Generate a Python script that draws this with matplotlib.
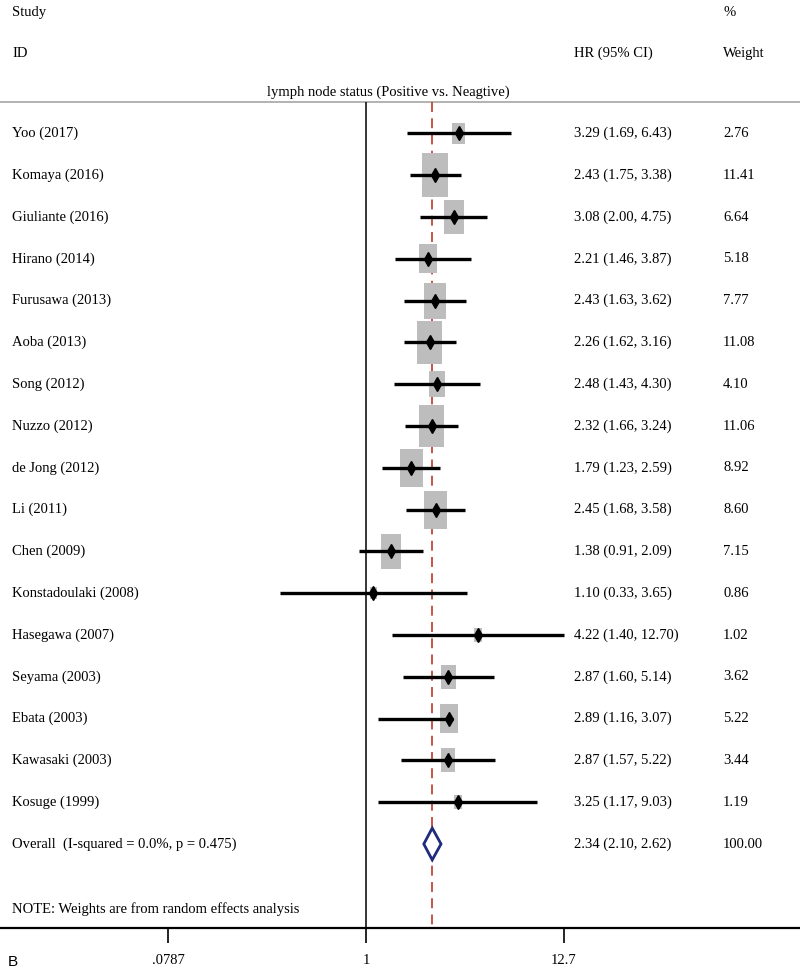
import numpy as np
import matplotlib
matplotlib.use("Agg")
import matplotlib.pyplot as plt
from matplotlib.patches import Rectangle, Polygon

studies = ["Yoo (2017)", "Komaya (2016)", "Giuliante (2016)", "Hirano (2014)",
           "Furusawa (2013)", "Aoba (2013)", "Song (2012)", "Nuzzo (2012)",
           "de Jong (2012)", "Li (2011)", "Chen (2009)", "Konstadoulaki (2008)",
           "Hasegawa (2007)", "Seyama (2003)", "Ebata (2003)", "Kawasaki (2003)",
           "Kosuge (1999)"]
hr = [3.29, 2.43, 3.08, 2.21, 2.43, 2.26, 2.48, 2.32, 1.79, 2.45, 1.38, 1.10,
      4.22, 2.87, 2.89, 2.87, 3.25]
lo = [1.69, 1.75, 2.00, 1.46, 1.63, 1.62, 1.43, 1.66, 1.23, 1.68, 0.91, 0.33,
      1.40, 1.60, 1.16, 1.57, 1.17]
hi = [6.43, 3.38, 4.75, 3.87, 3.62, 3.16, 4.30, 3.24, 2.59, 3.58, 2.09, 3.65,
      12.70, 5.14, 3.07, 5.22, 9.03]
weights = [2.76, 11.41, 6.64, 5.18, 7.77, 11.08, 4.10, 11.06, 8.92, 8.60, 7.15,
           0.86, 1.02, 3.62, 5.22, 3.44, 1.19]
overall_label = "Overall  (I-squared = 0.0%, p = 0.475)"
overall_hr, overall_lo, overall_hi, overall_w = 2.34, 2.10, 2.62, 100.00
subgroup_title = "lymph node status (Positive vs. Neagtive)"
note = "NOTE: Weights are from random effects analysis"
tick_values = [0.0787, 1, 12.7]
tick_labels = [".0787", "1", "12.7"]

FONT = "Liberation Serif"
FS = 10.5

W, H = 800, 971
fig = plt.figure(figsize=(W / 100, H / 100), dpi=100)
ax = fig.add_axes([0, (H - 928) / H, 1, 928 / H])

# x: log scale, px/ln-unit ~77.9, x=1 at pixel 366
ppl = 77.9
x1px = 366
ax.set_xscale("log")
ax.set_xlim(np.exp(-x1px / ppl), np.exp((W - x1px) / ppl))

y0px, dy = 133.4, 41.8
def row(px):
    return (px - y0px) / dy
ax.set_ylim(row(928), row(0))

n = len(studies)
xt = ax.get_yaxis_transform()

def fx(px):
    return px / W

top_line = row(102)
bottom = row(928)

# header
ax.text(fx(12), row(12), "Study", transform=xt, ha="left", va="center", family=FONT, fontsize=FS)
ax.text(fx(12), row(53), "ID", transform=xt, ha="left", va="center", family=FONT, fontsize=FS)
ax.text(fx(574), row(53), "HR (95% CI)", transform=xt, ha="left", va="center", family=FONT, fontsize=FS)
ax.text(fx(723), row(12), "%", transform=xt, ha="left", va="center", family=FONT, fontsize=FS)
ax.text(fx(723), row(53), "Weight", transform=xt, ha="left", va="center", family=FONT, fontsize=FS)
ax.axhline(top_line, color="#a6a6a6", lw=1.2, zorder=1)
ax.text(fx(388), row(92), subgroup_title, transform=xt, ha="center", va="center",
        family=FONT, fontsize=FS, zorder=3,
        bbox=dict(facecolor="white", edgecolor="none", pad=0.5))

# reference lines
ax.vlines(1, top_line, bottom, color="black", lw=1.1, zorder=2)
ax.vlines(overall_hr, top_line, bottom, color="#c0463a", lw=1.3,
          linestyles=(0, (5.5, 3.5)), zorder=2)

# studies
for i in range(n):
    s = np.sqrt(weights[i])
    hw = 0.04975 * s
    hh = 0.1545 * s
    ax.add_patch(Rectangle((hr[i] * np.exp(-hw), i - hh),
                           hr[i] * np.exp(hw) - hr[i] * np.exp(-hw), 2 * hh,
                           facecolor="#bdbdbd", edgecolor="none", zorder=3))
    ax.plot([lo[i], hi[i]], [i, i], color="black", lw=2.4, solid_capstyle="butt", zorder=4)
    ax.plot(hr[i], i, marker="d", color="black", markersize=7, zorder=5)
    ax.text(fx(12), i, studies[i], transform=xt, ha="left", va="center", family=FONT, fontsize=FS)
    ax.text(fx(574), i, f"{hr[i]:.2f} ({lo[i]:.2f}, {hi[i]:.2f})", transform=xt,
            ha="left", va="center", family=FONT, fontsize=FS)
    ax.text(fx(723), i, f"{weights[i]:.2f}", transform=xt, ha="left", va="center",
            family=FONT, fontsize=FS)

# overall
yo = n
dh = 0.38
ax.add_patch(Polygon([(overall_lo, yo), (overall_hr, yo - dh), (overall_hi, yo),
                      (overall_hr, yo + dh)], closed=True, facecolor="white",
                     edgecolor="#1f2b7b", lw=2, zorder=5))
ax.text(fx(12), yo, overall_label, transform=xt, ha="left", va="center", family=FONT, fontsize=FS)
ax.text(fx(574), yo, f"{overall_hr:.2f} ({overall_lo:.2f}, {overall_hi:.2f})", transform=xt,
        ha="left", va="center", family=FONT, fontsize=FS)
ax.text(fx(723), yo, f"{overall_w:.2f}", transform=xt, ha="left", va="center",
        family=FONT, fontsize=FS)

ax.text(fx(12), row(909), note, transform=xt, ha="left", va="center", family=FONT, fontsize=FS)

# axes styling
for sp in ["top", "left", "right"]:
    ax.spines[sp].set_visible(False)
ax.spines["bottom"].set_linewidth(1.6)
ax.set_yticks([])
ax.set_xticks(tick_values)
ax.set_xticklabels(tick_labels, family=FONT, fontsize=FS)
ax.xaxis.set_minor_locator(matplotlib.ticker.NullLocator())
ax.tick_params(axis="x", direction="out", length=11, width=1.2, pad=8)
ax.patch.set_alpha(0)

fig.text(8 / W, 1 - 962 / H, "B", ha="left", va="center", family="Liberation Sans", fontsize=11)

fig.savefig("out.png", dpi=100)
